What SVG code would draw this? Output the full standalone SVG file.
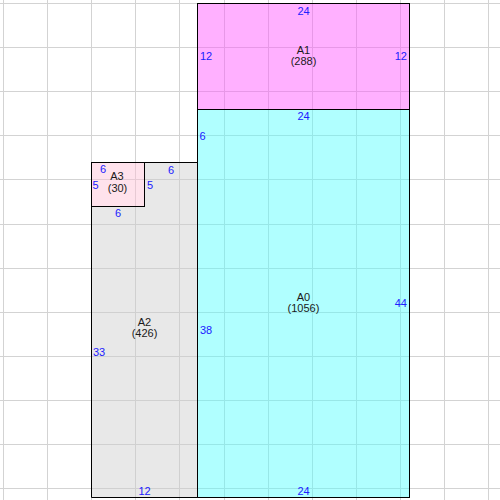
<svg xmlns="http://www.w3.org/2000/svg" width="500" height="500" viewBox="0 0 500 500">
<style>
.box{stroke:none;fill-opacity:0.45}
.edge{fill:none;stroke:#000;stroke-width:1}
.grid line{stroke:#d3d3d3;stroke-width:1}
text{font-family:"Liberation Sans",Arial,sans-serif;font-size:11px}
.name{fill:#1a1a1a;text-anchor:middle}
.dim{fill:#2020ff}
.c{text-anchor:middle}
.r{text-anchor:end}
</style>
<rect width="500" height="500" fill="#fff"/>
<g class="grid">
<line x1="3.5" y1="0" x2="3.5" y2="500"/><line x1="47.5" y1="0" x2="47.5" y2="500"/><line x1="91.5" y1="0" x2="91.5" y2="500"/><line x1="135.5" y1="0" x2="135.5" y2="500"/><line x1="179.5" y1="0" x2="179.5" y2="500"/><line x1="224.5" y1="0" x2="224.5" y2="500"/><line x1="268.5" y1="0" x2="268.5" y2="500"/><line x1="312.5" y1="0" x2="312.5" y2="500"/><line x1="356.5" y1="0" x2="356.5" y2="500"/><line x1="400.5" y1="0" x2="400.5" y2="500"/><line x1="444.5" y1="0" x2="444.5" y2="500"/><line x1="488.5" y1="0" x2="488.5" y2="500"/>
<line y1="3.5" x1="0" y2="3.5" x2="500"/><line y1="47.5" x1="0" y2="47.5" x2="500"/><line y1="91.5" x1="0" y2="91.5" x2="500"/><line y1="135.5" x1="0" y2="135.5" x2="500"/><line y1="179.5" x1="0" y2="179.5" x2="500"/><line y1="224.5" x1="0" y2="224.5" x2="500"/><line y1="268.5" x1="0" y2="268.5" x2="500"/><line y1="312.5" x1="0" y2="312.5" x2="500"/><line y1="356.5" x1="0" y2="356.5" x2="500"/><line y1="400.5" x1="0" y2="400.5" x2="500"/><line y1="444.5" x1="0" y2="444.5" x2="500"/><line y1="488.5" x1="0" y2="488.5" x2="500"/>
</g>
<g id="A1">
<rect class="box" x="197.5" y="3.5" width="212" height="106" fill="#ff4fff"/>
<rect class="edge" x="197.5" y="3.5" width="212" height="106"/>
<text class="name" x="303.5" y="53.5">A1</text>
<text class="name" x="303.5" y="64.5">(288)</text>
<text class="dim c" x="303.5" y="14.5">24</text>
<text class="dim" x="200" y="60">12</text>
<text class="dim r" x="407" y="60">12</text>
</g>
<g id="A0">
<rect class="box" x="197.5" y="109.5" width="212" height="388" fill="#4fffff"/>
<rect class="edge" x="197.5" y="109.5" width="212" height="388"/>
<text class="name" x="303.5" y="300.5">A0</text>
<text class="name" x="303.5" y="311.5">(1056)</text>
<text class="dim c" x="303.5" y="120">24</text>
<text class="dim" x="199.5" y="140">6</text>
<text class="dim" x="200" y="334">38</text>
<text class="dim r" x="407" y="306.5">44</text>
<text class="dim c" x="303.5" y="495">24</text>
</g>
<g id="A2">
<path class="box" d="M91.5 206.5H144.5V162.5H197.5V497.5H91.5Z" fill="#cccccc"/>
<path class="edge" d="M91.5 206.5H144.5V162.5H197.5V497.5H91.5Z"/>
<text class="name" x="144.5" y="326">A2</text>
<text class="name" x="144.5" y="337">(426)</text>
<text class="dim c" x="171" y="173.5">6</text>
<text class="dim" x="147" y="188.5">5</text>
<text class="dim c" x="118" y="217">6</text>
<text class="dim" x="93" y="355.5">33</text>
<text class="dim c" x="144.5" y="495">12</text>
</g>
<g id="A3">
<rect class="box" x="91.5" y="162.5" width="53" height="44" fill="#ffbfd5"/>
<rect class="edge" x="91.5" y="162.5" width="53" height="44"/>
<text class="name" x="117" y="180">A3</text>
<text class="name" x="117.5" y="192">(30)</text>
<text class="dim c" x="103" y="172.5">6</text>
<text class="dim" x="92.5" y="188.5">5</text>
</g>
</svg>
